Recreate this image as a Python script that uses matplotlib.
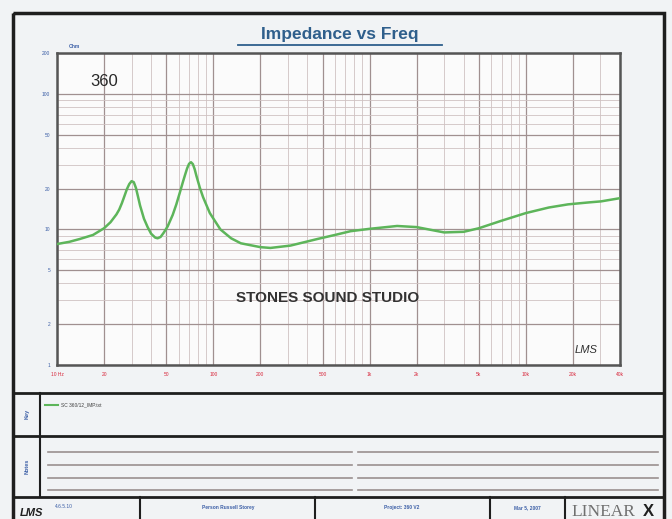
import matplotlib
matplotlib.use("Agg")
import matplotlib.pyplot as plt
from matplotlib.patches import Rectangle

# impedance curve (Hz, Ohm)
freq = [10, 12, 14, 17, 20, 22, 24, 25, 26, 27, 28, 29, 30, 31, 32, 33,
        34, 36, 38, 40, 42.5, 44, 46, 48, 51, 55, 58, 61, 64, 66, 68, 70,
        72, 74, 76, 78, 82, 86, 95, 111, 130, 150, 200, 232, 312, 464,
        600, 755, 1000, 1500, 2000, 3000, 4000, 5000, 7000, 10000, 14000,
        18600, 25000, 30300, 40000]
imp = [7.8, 8.1, 8.5, 9.1, 10.2, 11.3, 12.9, 14.0, 15.6, 17.6, 19.8, 21.6,
       22.7, 22.3, 20.2, 17.4, 15.0, 12.0, 10.4, 9.3, 8.7, 8.6, 8.8, 9.4,
       10.5, 12.8, 15.3, 18.6, 22.5, 25.3, 28.2, 30.5, 31.3, 30.3, 27.8,
       24.8, 20.3, 17.3, 13.2, 10.0, 8.6, 7.9, 7.4, 7.3, 7.6, 8.5, 9.1,
       9.7, 10.1, 10.6, 10.4, 9.5, 9.6, 10.2, 11.6, 13.2, 14.5, 15.3,
       15.8, 16.1, 17.0]

x_ticks = [10, 20, 50, 100, 200, 500, 1000, 2000, 5000, 10000, 20000, 40000]
x_labels = ["10 Hz", "20", "50", "100", "200", "500", "1k", "2k", "5k",
            "10k", "20k", "40k"]
y_ticks = [1, 2, 5, 10, 20, 50, 100, 200]
y_labels = ["1", "2", "5", "10", "20", "50", "100", "200"]

W, H = 672, 519
plt.rcParams['font.family'] = ['Liberation Sans', 'DejaVu Sans']
fig = plt.figure(figsize=(W / 100, H / 100), dpi=100)
fig.patch.set_facecolor("#f1f3f5")

# page furniture in pixel coordinates
bg = fig.add_axes([0, 0, 1, 1])
bg.set_xlim(0, W)
bg.set_ylim(H, 0)
bg.axis("off")

dark = "#1e1e1e"
bg.add_patch(Rectangle((13, 13), 651, 530, fill=False, ec=dark, lw=2.5))
bg.plot([13, 664], [393, 393], color=dark, lw=2)
bg.plot([13, 664], [436, 436], color=dark, lw=2)
bg.plot([13, 664], [497, 497], color=dark, lw=2)
bg.plot([40, 40], [393, 497], color=dark, lw=1.5)
for xv in [140, 315, 490, 565]:
    bg.plot([xv, xv], [497, 519], color=dark, lw=1.5)

# notes lines
for yv in [452, 465, 478, 490]:
    bg.plot([48, 352], [yv, yv], color="#9a9090", lw=1.2)
    bg.plot([358, 658], [yv, yv], color="#9a9090", lw=1.2)

blue = "#3b5ea6"
bg.text(27, 414, "Key", rotation=90, fontsize=4, color=blue,
        ha="center", va="center", fontweight="bold")
bg.text(27, 466, "Notes", rotation=90, fontsize=4, color=blue,
        ha="center", va="center", fontweight="bold")
bg.plot([45, 58], [405, 405], color="#5db55a", lw=1.5)
bg.text(61, 405, "SC 360/12_IMP.txt", fontsize=3.5, color="#404040",
        va="center")

bg.text(340, 35, "Impedance vs Freq", fontsize=12.5, fontweight="bold",
        color="#2f5f8c", ha="center", va="center")
bg.plot([238, 442], [45, 45], color="#2f5f8c", lw=1.3)

# title block
bg.text(20, 513, "LMS", fontsize=8, style="italic", fontweight="bold",
        color="#202020", va="center")
bg.text(55, 507, "4.6.5.10", fontsize=3.5, color=blue, va="center")
bg.text(228, 508, "Person Russell Storey", fontsize=3.5, color=blue,
        ha="center", va="center", fontweight="bold")
bg.text(402, 508, "Project: 360 V2", fontsize=3.5, color=blue,
        ha="center", va="center", fontweight="bold")
bg.text(527, 508, "Mar 5, 2007", fontsize=3.5, color=blue,
        ha="center", va="center", fontweight="bold")
bg.text(571, 512, "LINEAR", fontsize=12.5, family="Liberation Serif",
        color="#707070", va="center")
bg.text(643, 512, "X", fontsize=12, fontweight="bold", color="#202020",
        va="center")

# plot area
ax = fig.add_axes([57 / W, 1 - 365 / H, 563 / W, 312 / H])
ax.set_facecolor("#fbfbfb")
ax.plot(freq, imp, color="#5db55a", lw=1.8, zorder=3)
ax.set_xscale("log")
ax.set_yscale("log")
ax.set_xlim(10, 40000)
ax.set_ylim(1, 200)
ax.grid(True, which="major", color="#a09090", lw=0.9)
ax.grid(True, which="minor", color="#cfc2c2", lw=0.6)
ax.set_xticks(x_ticks)
ax.set_xticklabels(x_labels)
ax.set_yticks(y_ticks)
ax.set_yticklabels(y_labels)
ax.tick_params(which="both", length=0)
ax.tick_params(axis="x", labelsize=3.5, labelcolor="#d8283c", pad=5)
ax.tick_params(axis="y", labelsize=3.5, labelcolor=blue, pad=5)
for s in ax.spines.values():
    s.set_color("#555555")
    s.set_linewidth(1.8)

ax.text(0.02, 1.015, "Ohm", transform=ax.transAxes, fontsize=3.5,
        color=blue, fontweight="bold")
ax.text(0.06, 0.91, "360", transform=ax.transAxes, fontsize=12,
        color="#282828", va="center")
ax.text(0.48, 0.215, "STONES SOUND STUDIO", transform=ax.transAxes,
        fontsize=11, fontweight="bold", color="#333333", ha="center",
        va="center")
ax.text(0.94, 0.04, "LMS", transform=ax.transAxes, fontsize=8,
        style="italic", color="#303030", ha="center")

fig.savefig("out.png", dpi=100, facecolor=fig.get_facecolor())
